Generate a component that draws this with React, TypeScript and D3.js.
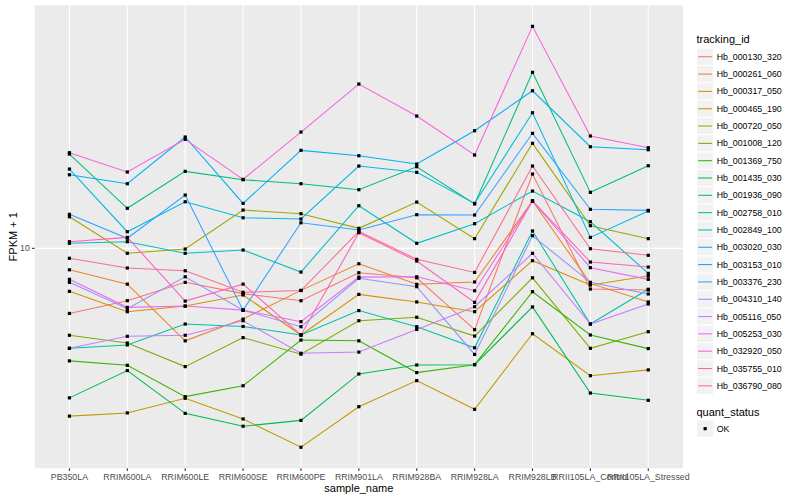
import React from "react";
import * as d3 from "d3";

const samples = [
  "PB350LA", "RRIM600LA", "RRIM600LE", "RRIM600SE", "RRIM600PE", "RRIM901LA",
  "RRIM928BA", "RRIM928LA", "RRIM928LB", "RRII105LA_Control", "RRII105LA_Stressed",
];

const trackingIds = [
  "Hb_000130_320", "Hb_000261_060", "Hb_000317_050", "Hb_000465_190", "Hb_000720_050",
  "Hb_001008_120", "Hb_001369_750", "Hb_001435_030", "Hb_001936_090", "Hb_002758_010",
  "Hb_002849_100", "Hb_003020_030", "Hb_003153_010", "Hb_003376_230", "Hb_004310_140",
  "Hb_005116_050", "Hb_005253_030", "Hb_032920_050", "Hb_035755_010", "Hb_036790_080",
];

// FPKM + 1 per sample, one array per tracking_id
const hb000130_320 = [6.26, 6.86, 7.83, 7.22, 6.86, 8.39, 8.09, 5.57, 17.07, 7.46, 7.41];
const hb000261_060 = [8.57, 7.73, 5.14, 6.01, 7.39, 8.95, 7.72, 7.85, 14.06, 7.77, 6.8];
const hb000317_050 = [7.34, 6.34, 6.6, 7.15, 5.36, 7.18, 6.8, 6.34, 9.15, 7.68, 8.19];
const hb000465_190 = [2.99, 3.06, 3.4, 2.93, 2.39, 3.2, 3.86, 3.14, 5.41, 4.0, 4.17];
const hb000720_050 = [12.55, 9.65, 9.95, 13.17, 12.83, 11.55, 13.95, 10.72, 21.29, 11.77, 10.72];
const hb001008_120 = [5.35, 5.06, 4.27, 5.26, 4.67, 5.94, 6.09, 5.32, 8.09, 4.87, 5.49];
const hb001369_750 = [4.45, 4.31, 3.44, 3.72, 5.17, 5.14, 4.09, 4.33, 7.32, 5.36, 4.86];
const hb001435_030 = [3.41, 4.15, 3.05, 2.78, 2.9, 4.05, 4.32, 4.33, 6.56, 3.53, 3.35];
const hb001936_090 = [19.71, 13.34, 17.4, 16.38, 15.92, 15.25, 17.99, 13.76, 35.48, 14.96, 18.12];
const hb002758_010 = [4.87, 4.99, 5.8, 5.7, 5.36, 6.39, 5.69, 4.89, 11.33, 5.8, 7.45];
const hb002849_100 = [10.37, 10.49, 9.65, 9.88, 8.43, 13.59, 10.37, 11.94, 15.1, 12.11, 8.35];
const hb003020_030 = [17.69, 11.27, 13.98, 12.46, 12.35, 18.08, 17.28, 13.82, 26.53, 10.82, 13.08];
const hb003153_010 = [16.98, 15.92, 22.28, 13.82, 20.24, 19.47, 18.34, 23.31, 31.08, 20.77, 20.33];
const hb003376_230 = [12.77, 10.75, 14.67, 6.41, 12.02, 11.41, 12.74, 12.71, 22.88, 13.24, 13.14];
const hb004310_140 = [7.83, 6.48, 8.15, 6.41, 5.69, 8.06, 7.59, 4.66, 10.95, 7.83, 7.2];
const hb005116_050 = [4.87, 5.31, 5.35, 5.94, 4.7, 4.74, 5.58, 6.57, 9.65, 5.8, 6.7];
const hb005253_030 = [8.0, 6.54, 6.6, 6.41, 5.9, 8.13, 8.15, 7.37, 14.06, 8.7, 8.0];
const hb032920_050 = [19.9, 17.32, 21.91, 16.43, 23.09, 32.62, 25.91, 19.57, 49.4, 22.44, 20.63];
const hb035755_010 = [10.49, 10.82, 6.84, 7.73, 5.36, 11.19, 9.13, 6.78, 14.06, 9.06, 8.74];
const hb036790_080 = [9.31, 8.68, 8.51, 7.29, 7.38, 11.29, 9.24, 8.41, 18.08, 9.97, 9.51];

const seriesValues = [
  hb000130_320, hb000261_060, hb000317_050, hb000465_190, hb000720_050,
  hb001008_120, hb001369_750, hb001435_030, hb001936_090, hb002758_010,
  hb002849_100, hb003020_030, hb003153_010, hb003376_230, hb004310_140,
  hb005116_050, hb005253_030, hb032920_050, hb035755_010, hb036790_080,
];

const yTicks = [10];
const quantLevels = ["OK"];

const palette = [
  "#F8766D", "#EA8331", "#D89000", "#C09B00", "#A3A500", "#7CAE00", "#39B600",
  "#00BB4E", "#00BF7D", "#00C1A3", "#00BFC4", "#00BAE0", "#00B0F6", "#35A2FF",
  "#9590FF", "#C77CFF", "#E76BF3", "#FA62DB", "#FF62BC", "#FF6C91",
];

const FONT = "'Liberation Sans', Arial, Helvetica, sans-serif";
const PT = 3.2; // point marker size

export default function App() {
  const W = 800;
  const H = 500;
  const pLeft = 34.7;
  const pRight = 683;
  const pTop = 5.3;
  const pBottom = 468.3;

  const x = d3.scalePoint<string>().domain(samples).range([pLeft, pRight]).padding(0.6);

  const all = seriesValues.flat();
  const [mn, mx] = d3.extent(all) as [number, number];
  const lmn = Math.log10(mn);
  const lmx = Math.log10(mx);
  const pad = (lmx - lmn) * 0.05;
  const y = d3
    .scaleLog()
    .domain([Math.pow(10, lmn - pad), Math.pow(10, lmx + pad)])
    .range([pBottom, pTop]);

  const line = d3
    .line<number>()
    .x((_, i) => x(samples[i]) as number)
    .y((v) => y(v));

  const legX = 696.5;
  const keyW = 17.3;
  const keyH = 17.32;
  const keyTop0 = 48.1;

  return (
    <svg
      width={W}
      height={H}
      viewBox={`0 0 ${W} ${H}`}
      style={{ position: "fixed", left: 0, top: 0, background: "#fff" }}
      fontFamily={FONT}
    >
      <rect x={0} y={0} width={W} height={H} fill="#fff" />
      <rect x={pLeft} y={pTop} width={pRight - pLeft} height={pBottom - pTop} fill="#EBEBEB" />
      {yTicks.map((t) => (
        <line key={t} x1={pLeft} x2={pRight} y1={y(t)} y2={y(t)} stroke="#fff" strokeWidth={1.07} />
      ))}
      {samples.map((s) => (
        <line key={s} x1={x(s)} x2={x(s)} y1={pTop} y2={pBottom} stroke="#fff" strokeWidth={1.07} />
      ))}

      {seriesValues.map((vals, i) => (
        <path key={trackingIds[i]} d={line(vals) || ""} fill="none" stroke={palette[i]} strokeWidth={1.07} />
      ))}
      {seriesValues.map((vals, i) =>
        vals.map((v, j) => (
          <rect
            key={`${i}-${j}`}
            x={(x(samples[j]) as number) - PT / 2}
            y={y(v) - PT / 2}
            width={PT}
            height={PT}
            fill="#000"
          />
        ))
      )}

      {/* y axis */}
      {yTicks.map((t) => (
        <g key={`yt${t}`}>
          <line x1={pLeft - 2.75} x2={pLeft} y1={y(t)} y2={y(t)} stroke="#333" strokeWidth={1.07} />
          <text x={pLeft - 4.9} y={y(t)} dy="0.35em" textAnchor="end" fontSize={8.8} fill="#4D4D4D">
            {t}
          </text>
        </g>
      ))}
      <text
        transform={`translate(13,${(pTop + pBottom) / 2}) rotate(-90)`}
        textAnchor="middle"
        dy="0.35em"
        fontSize={11}
        fill="#000"
      >
        FPKM + 1
      </text>

      {/* x axis */}
      {samples.map((s) => (
        <g key={`xt${s}`}>
          <line x1={x(s)} x2={x(s)} y1={pBottom} y2={pBottom + 2.75} stroke="#333" strokeWidth={1.07} />
          <text x={x(s)} y={479.8} textAnchor="middle" fontSize={8.8} fill="#4D4D4D">
            {s}
          </text>
        </g>
      ))}
      <text x={(pLeft + pRight) / 2} y={491.5} textAnchor="middle" fontSize={11} fill="#000">
        sample_name
      </text>

      {/* legend: tracking_id */}
      <text x={legX} y={43} fontSize={11} fill="#000">
        tracking_id
      </text>
      {trackingIds.map((id, i) => {
        const top = keyTop0 + i * keyH;
        return (
          <g key={`lg${id}`}>
            <rect x={legX} y={top} width={keyW} height={keyH} fill="#F2F2F2" stroke="#fff" strokeWidth={1.07} />
            <line
              x1={legX + 1.7}
              x2={legX + keyW - 1.7}
              y1={top + keyH / 2}
              y2={top + keyH / 2}
              stroke={palette[i]}
              strokeWidth={1.07}
            />
            <text x={legX + keyW + 2.9} y={top + keyH / 2} dy="0.35em" fontSize={8.8} fill="#000">
              {id}
            </text>
          </g>
        );
      })}

      {/* legend: quant_status */}
      <text x={legX} y={416} fontSize={11} fill="#000">
        quant_status
      </text>
      {quantLevels.map((q, i) => {
        const top = 420 + i * keyH;
        return (
          <g key={`q${q}`}>
            <rect x={legX} y={top} width={keyW} height={keyH} fill="#F2F2F2" stroke="#fff" strokeWidth={1.07} />
            <rect
              x={legX + keyW / 2 - PT / 2}
              y={top + keyH / 2 - PT / 2}
              width={PT}
              height={PT}
              fill="#000"
            />
            <text x={legX + keyW + 2.9} y={top + keyH / 2} dy="0.35em" fontSize={8.8} fill="#000">
              {q}
            </text>
          </g>
        );
      })}
    </svg>
  );
}
